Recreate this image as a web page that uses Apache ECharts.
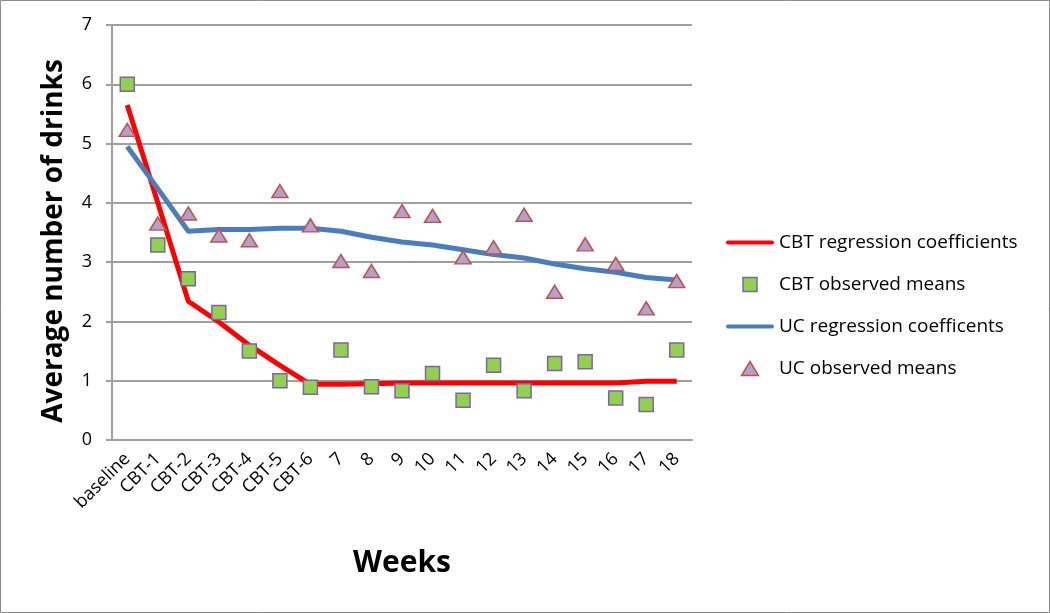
<!DOCTYPE html>
<html>
<head>
<meta charset="utf-8">
<script src="https://cdn.jsdelivr.net/npm/echarts@6/dist/echarts.min.js"></script>
<style>
  html, body { margin: 0; padding: 0; background: #fff; }
  #chart { width: 1050px; height: 613px; }
</style>
</head>
<body>
<div id="chart"></div>
<script>
// weeks on the x axis
var weeks = ['baseline', 'CBT-1', 'CBT-2', 'CBT-3', 'CBT-4', 'CBT-5', 'CBT-6',
  '7', '8', '9', '10', '11', '12', '13', '14', '15', '16', '17', '18'];

// CBT group
var cbtRegression = [5.65, 4.0, 2.34, 1.99, 1.6, 1.26, 0.94, 0.94, 0.95, 0.96, 0.96,
  0.96, 0.96, 0.96, 0.96, 0.96, 0.96, 0.99, 0.99];
var cbtObserved = [6.0, 3.29, 2.72, 2.15, 1.5, 1.0, 0.89, 1.52, 0.9, 0.83, 1.12,
  0.67, 1.26, 0.83, 1.29, 1.32, 0.71, 0.6, 1.52];

// UC group
var ucRegression = [4.95, 4.24, 3.52, 3.55, 3.55, 3.57, 3.57, 3.52, 3.42, 3.34, 3.29,
  3.21, 3.13, 3.07, 2.97, 2.89, 2.83, 2.74, 2.7];
var ucObserved = [5.23, 3.65, 3.82, 3.45, 3.37, 4.2, 3.62, 3.02, 2.85, 3.86, 3.78,
  3.08, 3.25, 3.8, 2.5, 3.3, 2.97, 2.22, 2.68];

var FONT = 'Open Sans';
// legend icons (kept at their own aspect inside the icon box)
var lineIcon = 'path://M2,0 L46,0 A2,2 0 0 1 46,4 L2,4 A2,2 0 0 1 2,0 Z';
var squareIcon = 'path://M0,0 L10,0 L10,10 L0,10 Z';
var triIcon = 'path://M6,0 L12,10 L0,10 Z';

var chart = echarts.init(document.getElementById('chart'));

chart.setOption({
  animation: false,
  backgroundColor: '#fff',
  textStyle: { fontFamily: FONT, color: '#000' },
  grid: { left: 112, right: 358, top: 25, bottom: 173 },
  graphic: [{
    type: 'rect',
    shape: { x: 0.5, y: 0.5, width: 1049, height: 612 },
    style: { fill: 'none', stroke: '#8c8c8c', lineWidth: 1 },
    silent: true
  }, {
    type: 'text',
    x: 54,
    y: 241,
    rotation: Math.PI / 2,
    style: {
      text: 'Average number of drinks',
      font: 'bold 28px "Open Sans"',
      fill: '#000',
      align: 'center',
      verticalAlign: 'middle'
    },
    silent: true
  }],
  legend: {
    orient: 'vertical',
    left: 726,
    top: 233,
    padding: 0,
    itemWidth: 48,
    itemHeight: 14,
    itemGap: 23,
    textStyle: { fontFamily: FONT, fontSize: 19, color: '#000' },
    data: [
      { name: 'CBT regression coefficients', icon: lineIcon,
        itemStyle: { color: '#ff0000', borderWidth: 0 } },
      { name: 'CBT observed means', icon: squareIcon,
        itemStyle: { color: '#92d050', borderColor: '#8064a2', borderWidth: 1.5 } },
      { name: 'UC regression coefficents', icon: lineIcon,
        itemStyle: { color: '#4a7ebb', borderWidth: 0 } },
      { name: 'UC observed means', icon: triIcon,
        itemStyle: { color: '#b3a2c7', borderColor: '#c0504d', borderWidth: 1.5 } }
    ]
  },
  xAxis: {
    type: 'category',
    data: weeks,
    boundaryGap: true,
    name: 'Weeks',
    nameLocation: 'middle',
    nameGap: 108,
    nameTextStyle: { fontFamily: FONT, fontSize: 30, fontWeight: 'bold', color: '#000' },
    axisLine: { lineStyle: { color: '#a0a0a0', width: 2 } },
    axisTick: { show: false },
    axisLabel: { rotate: 45, fontSize: 18, color: '#000', margin: 16, interval: 0 }
  },
  yAxis: {
    type: 'value',
    min: 0,
    max: 7,
    interval: 1,
    axisLine: { show: true, lineStyle: { color: '#a0a0a0', width: 2 } },
    axisTick: { show: true, length: 6, lineStyle: { color: '#a0a0a0', width: 2 } },
    axisLabel: { fontSize: 18, color: '#000', margin: 20 },
    splitLine: { lineStyle: { color: '#a0a0a0', width: 2 } }
  },
  series: [
    {
      name: 'CBT regression coefficients',
      type: 'line',
      data: cbtRegression,
      symbol: 'none',
      lineStyle: { color: '#ff0000', width: 5 },
      itemStyle: { color: '#ff0000' },
      z: 3
    },
    {
      name: 'CBT observed means',
      type: 'scatter',
      data: cbtObserved,
      symbol: 'rect',
      symbolSize: 14,
      itemStyle: { color: '#92d050', borderColor: '#8064a2', borderWidth: 1.5, opacity: 1 },
      z: 4
    },
    {
      name: 'UC regression coefficents',
      type: 'line',
      data: ucRegression,
      symbol: 'none',
      lineStyle: { color: '#4a7ebb', width: 5 },
      itemStyle: { color: '#4a7ebb' },
      z: 3
    },
    {
      name: 'UC observed means',
      type: 'scatter',
      data: ucObserved,
      symbol: 'triangle',
      symbolSize: [16, 13],
      itemStyle: { color: '#b3a2c7', borderColor: '#c0504d', borderWidth: 1.5, opacity: 1 },
      z: 4
    }
  ]
});
</script>
</body>
</html>
